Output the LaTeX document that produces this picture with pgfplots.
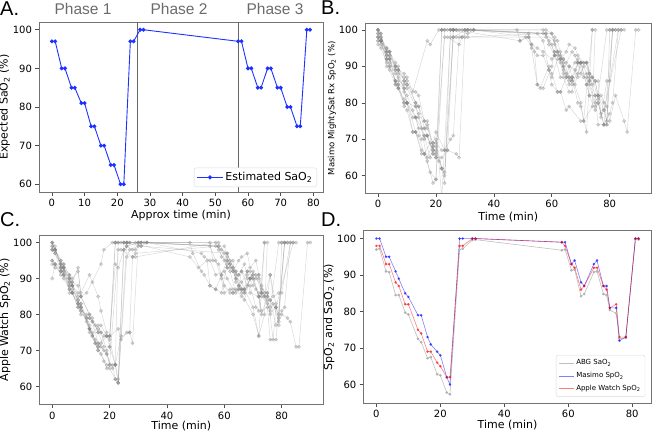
\documentclass[border=0pt]{standalone}
\usepackage{pgfplots}
\pgfplotsset{compat=1.18}
\usepackage{fontspec}
\setmainfont{DejaVu Sans}
\newfontfamily\lib{Liberation Sans}
\begin{document}
\begin{tikzpicture}[x=1pt,y=1pt]
\useasboundingbox (0,0) rectangle (653,432);
\pgfplotsset{
  myax/.style={
    scale only axis, anchor=south west,
    axis line style={black!55, line width=0.7pt},
    tick align=outside, tick pos=left,
    major tick length=3.5pt,
    every tick/.style={black!70, line width=0.6pt},
    ticklabel style={font=\fontsize{10}{12}\selectfont},
    label style={font=\fontsize{11}{13}\selectfont},
    xlabel shift=-3pt, ylabel shift=-4pt,
    /pgf/number format/assume math mode=true,
    ytick={60,70,80,90,100},
  },
  sp/.style={color=gray, opacity=0.3, line width=0.5pt, mark=*, mark size=1.7pt, mark options={solid}},
}
% ---------------- Panel A ----------------
\begin{axis}[myax, at={(39pt,240pt)}, width=284pt, height=170pt,
  xmin=-3.95, xmax=82.95, ymin=58, ymax=102,
  xtick={0,10,...,80},
  xlabel={Approx time (min)}, ylabel={Expected SaO\textsubscript{2} (\%)},
  legend style={at={(1,0)}, anchor=south east, xshift=-6pt, yshift=5pt, draw=gray!30, rounded corners=2pt, font=\fontsize{11}{13}\selectfont, inner sep=2.5pt},
  legend image code/.code={\draw[mark repeat=2,mark phase=2] plot coordinates {(0pt,0pt) (13pt,0pt) (26pt,0pt)};},
  legend cell align=left]
\addplot[black!60, line width=0.7pt, forget plot] coordinates {(26,58) (26,102)};
\addplot[black!60, line width=0.7pt, forget plot] coordinates {(57,58) (57,102)};
\addplot[color={rgb,255:red,30;green,50;blue,255}, line width=0.9pt, mark=*, mark size=1.5pt] coordinates {
(0,97)(1,97)(3,90)(4,90)(6,85)(7,85)(9,81)(10,81)(12,75)(13,75)(15,70)(16,70)(18,65)(19,65)(21,60)(22,60)(24,97)(25,97)(27,100)(28,100)(57,97)(58,97)(60,90)(61,90)(63,85)(64,85)(66,90)(67,90)(69,85)(70,85)(72,80)(73,80)(75,75)(76,75)(78,100)(79,100)};
\addlegendentry{Estimated SaO\textsubscript{2}}
\end{axis}
% ---------------- Panel B ----------------
\begin{axis}[myax, at={(365pt,238.7pt)}, width=286.7pt, height=170pt,
  xmin=-4.5, xmax=94.5, ymin=55.2, ymax=101.8,
  xtick={0,20,...,80},
  xlabel={Time (min)}, ylabel={Masimo MightySat Rx SpO\textsubscript{2} (\%)},
  ylabel style={font=\fontsize{8.5}{10}\selectfont}]
\addplot[sp] coordinates {(0,100)(1,98)(3,95)(4,94)(6,89)(7,89)(9,86)(10,84)(13,79)(14,76)(16,71)(17,71)(19,67)(20,67)(22,62)(23,61)(26,100)(27,100)(30,100)(31,100)(58,99)(59,97)(61,94)(62,94)(64,88)(65,87)(68,91)(69,92)(71,87)(72,87)(73,82)(75,82)(76,74)(78,74)(81,100)(82,100)};
\addplot[sp] coordinates {(0,99)(1,97)(3,92)(4,92)(6,86)(7,85)(9,80)(10,80)(12,72)(13,72)(15,66)(16,66)(18,61)(20,59)(22,100)(23,100)(26,100)(48,100)(49,97)(52,98)(53,95)(55,85)(56,84)(59,90)(60,88)(62,83)(63,83)(65,78)(66,79)(70,75)(71,75)(74,100)};
\addplot[sp] coordinates {(0,98)(1,97)(3,94)(4,94)(6,90)(7,88)(9,87)(10,85)(13,83)(14,82)(16,75)(17,75)(19,68)(20,65)(22,100)(24,100)(25,100)(29,100)(52,99)(53,96)(55,93)(57,93)(59,89)(60,87)(62,92)(63,91)(66,86)(67,87)(69,80)(70,79)(72,72)(74,100)};
\addplot[sp] coordinates {(0,97)(1,97)(3,90)(4,89)(6,85)(7,84)(9,79)(10,80)(13,72)(14,71)(16,66)(17,65)(19,69)(20,72)(23,67)(24,67)(26,100)(28,100)(57,100)(58,98)(60,96)(61,93)(63,93)(64,91)(66,90)(67,87)(69,91)(70,91)(72,85)(73,86)(75,80)(76,82)(78,80)(79,74)(80,100)};
\addplot[sp] coordinates {(0,100)(1,99)(3,93)(4,92)(6,88)(7,87)(9,84)(10,82)(12,78)(13,76)(15,70)(16,71)(18,65)(19,68)(21,64)(22,54)(25,98)(26,98)(30,100)(33,100)(60,99)(61,96)(63,92)(64,90)(66,87)(67,86)(69,88)(70,91)(72,91)(73,88)(75,86)(76,82)(78,78)(79,75)(81,100)(82,100)};
\addplot[sp] coordinates {(0,99)(1,98)(3,94)(4,93)(6,90)(7,86)(9,85)(10,87)(12,83)(17,97)(18,96)(21,100)(22,100)(26,100)(27,100)(49,97)(51,98)(54,94)(55,85)(57,84)(60,90)(61,94)(63,94)(64,89)(66,85)(67,87)(70,80)(71,75)(74,79)(75,100)};
\addplot[sp] coordinates {(0,98)(1,97)(3,95)(4,94)(6,91)(7,89)(9,88)(10,86)(13,80)(14,79)(16,75)(17,73)(19,69)(20,69)(22,67)(23,67)(25,70)(26,71)(28,98)(29,98)(31,100)(58,100)(60,99)(62,93)(63,92)(65,94)(66,96)(68,95)(69,93)(71,91)(72,91)(74,87)(75,86)(77,77)(78,78)(84,100)(85,100)};
\addplot[sp] coordinates {(0,96)(1,95)(3,91)(4,90)(6,86)(7,84)(9,80)(10,78)(12,72)(13,72)(15,67)(16,66)(18,69)(20,68)(22,62)(23,60)(26,98)(27,98)(30,98)(31,98)(61,98)(62,97)(64,90)(65,88)(67,85)(68,85)(70,91)(71,91)(73,88)(74,85)(76,86)(77,76)(79,86)(80,86)(83,100)(84,100)};
\addplot[sp] coordinates {(0,100)(1,99)(3,92)(4,90)(6,86)(7,85)(9,84)(10,80)(13,76)(14,73)(16,73)(17,71)(19,66)(20,65)(22,65)(24,67)(27,66)(28,65)(30,100)(31,100)(55,99)(57,97)(59,89)(60,85)(62,83)(63,83)(65,87)(66,90)(68,89)(69,87)(72,88)(73,85)(75,79)(76,80)(78,74)(80,77)(81,80)(83,100)};
\addplot[sp] coordinates {(0,97)(1,97)(3,92)(4,91)(6,89)(7,89)(9,83)(10,80)(13,79)(14,77)(16,70)(17,71)(19,66)(20,66)(23,98)(24,98)(28,96)(29,98)(58,99)(59,96)(61,93)(62,94)(64,92)(65,91)(67,94)(68,93)(70,88)(71,90)(73,86)(74,87)(76,81)(77,82)(79,79)(80,75)(82,82)(85,75)(86,72)(89,100)(90,100)};
\addplot[sp] coordinates {(0,98)(1,96)(3,93)(4,93)(6,85)(7,84)(9,81)(10,80)(12,76)(13,76)(15,73)(17,64)(19,58)(20,59)(23,100)(25,100)(31,99)(33,100)(57,99)(61,97)(63,92)(64,92)(66,87)(67,86)(69,91)(70,91)(72,85)(73,82)(75,78)(76,80)(78,74)(79,74)(81,100)};
\addplot[sp] coordinates {(0,100)(1,97)(3,94)(4,92)(6,90)(7,90)(9,86)(10,85)(13,80)(14,79)(16,73)(17,74)(19,67)(20,70)(22,62)(23,58)(25,100)(26,100)(32,100)(33,100)(52,98)(53,96)(55,95)(57,94)(60,92)(61,93)(63,87)(64,87)(66,83)(67,83)(69,91)(70,91)(72,91)(73,87)(75,82)(76,82)(79,100)(80,100)};
\end{axis}
% ---------------- Panel C ----------------
\begin{axis}[myax, at={(39.3pt,27.3pt)}, width=284pt, height=169.7pt,
  xmin=-4.5, xmax=94.5, ymin=54.9, ymax=102.1,
  xtick={0,20,...,80}, xlabel shift=-3pt, xlabel style={inner sep=1pt},
  xlabel={Time (min)}, ylabel={Apple Watch SpO\textsubscript{2} (\%)}]
\addplot[sp] coordinates {(0,100)(1,98)(3,94)(4,93)(6,89)(7,88)(9,84)(10,82)(13,76)(14,74)(16,70)(17,69)(19,66)(20,65)(22,62)(23,61)(26,100)(27,100)(30,100)(31,100)(58,99)(59,98)(61,93)(62,92)(64,86)(65,87)(68,92)(69,92)(71,87)(72,86)(73,81)(75,82)(76,73)(78,73)(81,100)(82,100)};
\addplot[sp] coordinates {(0,95)(1,94)(3,92)(4,91)(6,88)(7,86)(9,83)(10,81)(12,78)(13,75)(15,72)(16,71)(18,74)(20,74)(22,100)(23,100)(26,100)(48,100)(49,97)(52,92)(53,91)(55,88)(57,87)(59,91)(60,88)(62,86)(63,86)(65,88)(66,86)(70,80)(72,74)(74,100)};
\addplot[sp] coordinates {(0,98)(1,98)(3,95)(4,94)(6,91)(7,90)(9,92)(10,86)(13,91)(14,89)(16,85)(17,81)(19,75)(20,71)(22,100)(24,100)(25,100)(29,100)(55,100)(56,95)(58,94)(59,91)(61,95)(62,93)(65,91)(66,92)(68,88)(69,88)(71,82)(72,81)(74,100)};
\addplot[sp] coordinates {(0,90)(1,94)(3,93)(4,91)(6,87)(7,86)(9,82)(10,83)(13,76)(14,75)(16,70)(17,72)(19,74)(20,74)(23,76)(24,73)(26,75)(27,75)(28,96)(29,96)(57,100)(58,98)(60,95)(61,93)(63,93)(64,90)(66,89)(67,87)(69,90)(70,90)(72,85)(73,86)(75,85)(76,91)(78,83)(79,77)(80,100)};
\addplot[sp] coordinates {(0,99)(1,98)(3,93)(4,93)(6,90)(7,88)(9,85)(10,83)(12,79)(13,77)(15,72)(16,71)(18,67)(19,65)(21,66)(22,62)(23,61)(25,98)(26,99)(30,100)(33,100)(60,99)(61,96)(63,92)(64,90)(66,87)(67,86)(69,90)(70,92)(72,90)(73,87)(75,86)(76,84)(78,82)(79,79)(81,100)(82,100)};
\addplot[sp] coordinates {(0,98)(1,97)(3,94)(4,93)(6,90)(7,89)(9,93)(10,85)(12,86)(17,94)(18,98)(21,100)(22,100)(26,100)(27,100)(48,96)(51,93)(54,95)(55,88)(57,87)(59,86)(61,94)(63,95)(64,89)(66,87)(67,87)(70,82)(72,74)(74,80)(75,100)};
\addplot[sp] coordinates {(0,99)(1,98)(3,94)(4,93)(6,91)(7,89)(9,88)(10,85)(13,80)(14,78)(16,76)(17,75)(19,74)(20,74)(22,94)(23,93)(25,98)(26,99)(28,98)(29,98)(31,100)(58,100)(60,97)(62,94)(63,92)(65,95)(66,96)(68,97)(69,93)(71,95)(72,91)(74,86)(75,86)(77,73)(78,82)(84,100)(85,100)};
\addplot[sp] coordinates {(0,95)(1,94)(3,91)(4,90)(6,87)(7,86)(9,83)(10,82)(12,79)(13,79)(15,77)(16,75)(18,71)(20,71)(22,66)(23,61)(26,96)(27,98)(30,99)(31,99)(61,97)(62,95)(64,92)(65,88)(67,87)(68,92)(70,90)(71,90)(73,88)(74,85)(76,91)(77,85)(79,86)(80,86)(83,100)(84,100)};
\addplot[sp] coordinates {(0,100)(1,99)(3,93)(4,92)(6,88)(7,87)(9,84)(10,82)(13,76)(14,74)(16,77)(17,75)(19,70)(20,66)(22,66)(24,74)(27,75)(28,72)(30,100)(31,100)(55,99)(57,95)(59,90)(60,86)(62,87)(63,86)(65,87)(66,92)(68,90)(69,86)(72,85)(73,80)(75,85)(76,84)(78,77)(80,81)(81,82)(83,100)};
\addplot[sp] coordinates {(0,98)(1,97)(3,92)(4,91)(6,89)(7,88)(9,83)(10,80)(13,79)(14,78)(16,72)(17,71)(19,69)(20,66)(23,98)(24,98)(28,96)(29,97)(58,99)(59,96)(61,95)(62,94)(64,91)(65,91)(67,94)(68,91)(70,88)(71,91)(73,86)(74,85)(76,81)(77,83)(79,78)(80,80)(82,79)(83,78)(85,71)(86,71)(89,100)(90,100)};
\addplot[sp] coordinates {(0,94)(1,93)(3,92)(4,94)(6,86)(7,86)(9,82)(10,81)(12,80)(13,76)(15,73)(16,72)(18,70)(19,69)(21,65)(22,66)(23,100)(25,100)(31,99)(33,100)(57,99)(61,97)(63,93)(64,92)(66,87)(67,86)(69,90)(70,91)(72,85)(73,85)(75,83)(76,80)(78,82)(79,80)(81,100)};
\addplot[sp] coordinates {(0,100)(1,98)(3,95)(4,92)(6,90)(7,88)(9,86)(10,85)(13,80)(14,79)(16,75)(17,77)(19,74)(20,73)(22,66)(23,62)(25,100)(26,100)(32,100)(33,100)(52,97)(53,96)(55,95)(57,91)(60,92)(61,90)(63,87)(64,87)(66,85)(67,84)(69,90)(70,91)(72,91)(73,86)(75,84)(76,82)(79,100)(80,100)};
\end{axis}
% ---------------- Panel D ----------------
\begin{axis}[myax, at={(363.3pt,28.7pt)}, width=288.4pt, height=172.6pt,
  xmin=-4.1, xmax=86.1, ymin=54.85, ymax=102.15,
  xtick={0,20,...,80}, xlabel shift=-2pt, xlabel style={inner sep=1pt},
  xlabel={Time (min)}, ylabel={SpO\textsubscript{2} and SaO\textsubscript{2} (\%)},
  legend style={at={(1,0)}, anchor=south east, xshift=-6.5pt, yshift=6.5pt, draw=gray!30, rounded corners=2pt, font=\fontsize{7}{8.5}\selectfont, inner sep=2.5pt, row sep=2pt},
  legend image code/.code={\draw (0pt,0pt) -- (15pt,0pt);},
  legend cell align=left]
\addplot[color=gray!50, line width=0.6pt, mark=*, mark size=1pt, mark options={fill=gray!60, draw=gray!60}] coordinates {
(0,97)(1,97.2)(3,91)(4,90.8)(6,84.5)(7,84.5)(9,79.7)(10,79.2)(13,72.5)(14,71.6)(16,67.2)(17,67.5)(19,62.8)(20,62.5)(22,57.8)(23,57.3)(26,97)(27,97.2)(30,99.6)(31,99.7)(58,96.8)(59,97)(61,91.3)(62,91.5)(64,84.2)(65,84.8)(68,90.8)(69,91)(71,84.8)(72,84.5)(73,80.4)(75,79.5)(76,72.5)(78,72.8)(81,99.7)(82,99.7)};
\addlegendentry{ABG SaO\textsubscript{2}}
\addplot[color=blue, opacity=0.5, line width=0.6pt, mark=*, mark size=1pt] coordinates {
(0,100)(1,100)(3,95)(4,95)(6,91)(7,89)(9,85)(10,84)(13,79)(14,79)(16,73)(17,71)(19,69)(20,68)(22,62)(23,60)(26,100)(27,100)(30,100)(31,100)(58,99)(59,99)(61,93)(62,94)(64,88)(65,87)(68,93)(69,94)(71,87)(72,87)(73,81)(75,81)(76,72)(78,73)(81,100)(82,100)};
\addlegendentry{Masimo SpO\textsubscript{2}}
\addplot[color=red, opacity=0.5, line width=0.6pt, mark=*, mark size=1pt] coordinates {
(0,98)(1,98)(3,93)(4,93)(6,88)(7,87)(9,82)(10,82)(13,75)(14,74)(16,69)(17,69)(19,66)(20,65)(22,62)(23,62)(26,98)(27,98)(30,100)(31,100)(58,99)(59,98)(61,93)(62,92)(64,86)(65,87)(68,92)(69,92)(71,87)(72,86)(73,81)(75,82)(76,73)(78,73)(81,100)(82,100)};
\addlegendentry{Apple Watch SpO\textsubscript{2}}
\end{axis}
% ---------------- Phase labels & panel letters ----------------
\node[text=black!58, font=\lib\fontsize{15.5}{18}\selectfont] at (83,423) {Phase 1};
\node[text=black!58, font=\lib\fontsize{15.5}{18}\selectfont] at (179,423) {Phase 2};
\node[text=black!58, font=\lib\fontsize{15.5}{18}\selectfont] at (275,423) {Phase 3};
\node[anchor=base west, inner sep=0pt, font=\lib\fontsize{20}{24}\selectfont] at (0,416) {A.};
\node[anchor=base west, inner sep=0pt, font=\lib\fontsize{20}{24}\selectfont] at (321,417) {B.};
\node[anchor=base west, inner sep=0pt, font=\lib\fontsize{20}{24}\selectfont] at (0,205.3) {C.};
\node[anchor=base west, inner sep=0pt, font=\lib\fontsize{20}{24}\selectfont] at (321,205.3) {D.};
\end{tikzpicture}
\end{document}
